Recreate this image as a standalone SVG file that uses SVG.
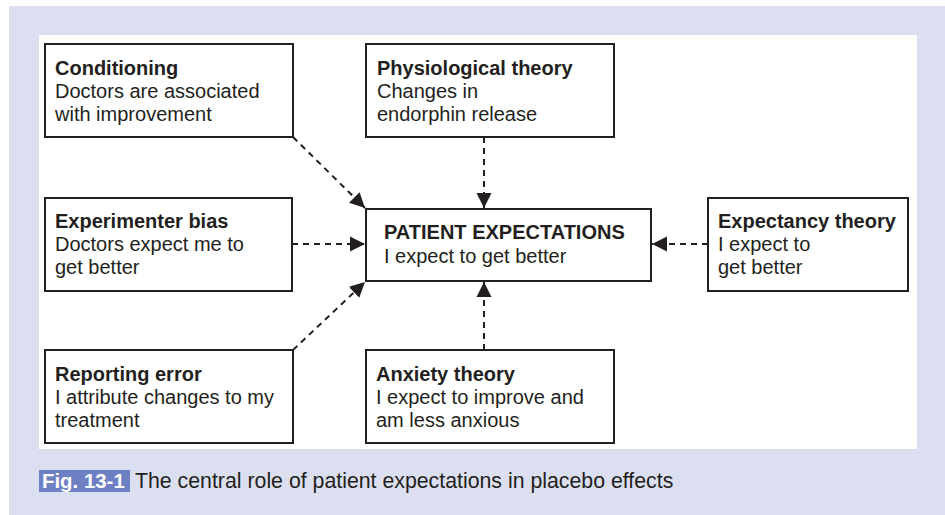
<svg xmlns="http://www.w3.org/2000/svg" width="945" height="515" viewBox="0 0 945 515">
<style>
.box{fill:#fff;stroke:#231f20;stroke-width:2}
.t{font-family:"Liberation Sans",Arial,Helvetica,sans-serif;font-size:20px;fill:#231f20}
.b{font-weight:bold}
.cap{font-size:21.3px}
.c{stroke:#231f20;stroke-width:2;stroke-dasharray:6 5;fill:none;marker-end:url(#ah)}
</style>
<defs>
<marker id="ah" markerUnits="userSpaceOnUse" markerWidth="16" markerHeight="16" refX="15" refY="7.5" orient="auto" viewBox="0 0 16 15">
<path d="M0,0 L15,7.5 L0,15 z" fill="#231f20"/>
</marker>
</defs>
<rect x="0" y="0" width="945" height="515" fill="#fff"/>
<rect x="9" y="6" width="936" height="509" fill="#dcdff0"/>
<rect x="39" y="35" width="878" height="414" fill="#fff"/>

<g id="connectors">
<line class="c" x1="293" y1="137" x2="365" y2="208"/>
<line class="c" x1="484" y1="137" x2="484" y2="208"/>
<line class="c" x1="292" y1="244" x2="365" y2="244"/>
<line class="c" x1="708" y1="244" x2="652" y2="244"/>
<line class="c" x1="293" y1="350" x2="365" y2="282"/>
<line class="c" x1="484" y1="350" x2="484" y2="282"/>
</g>

<g id="conditioning">
<rect class="box" x="45" y="44" width="248" height="93"/>
<text class="t b" x="55" y="75">Conditioning</text>
<text class="t" x="55" y="98">Doctors are associated</text>
<text class="t" x="55" y="121">with improvement</text>
</g>
<g id="physiological">
<rect class="box" x="366" y="44" width="248" height="93"/>
<text class="t b" x="377" y="75">Physiological theory</text>
<text class="t" x="377" y="98">Changes in</text>
<text class="t" x="377" y="121">endorphin release</text>
</g>
<g id="experimenter">
<rect class="box" x="45" y="198" width="247" height="93"/>
<text class="t b" x="55" y="228">Experimenter bias</text>
<text class="t" x="55" y="251">Doctors expect me to</text>
<text class="t" x="55" y="274">get better</text>
</g>
<g id="patient">
<rect class="box" x="366" y="209" width="285" height="72"/>
<text class="t b" x="384" y="239">PATIENT EXPECTATIONS</text>
<text class="t" x="384" y="263">I expect to get better</text>
</g>
<g id="expectancy">
<rect class="box" x="708" y="198" width="200" height="93"/>
<text class="t b" x="718" y="228">Expectancy theory</text>
<text class="t" x="718" y="251">I expect to</text>
<text class="t" x="718" y="274">get better</text>
</g>
<g id="reporting">
<rect class="box" x="45" y="350" width="248" height="93"/>
<text class="t b" x="55" y="381">Reporting error</text>
<text class="t" x="55" y="404">I attribute changes to my</text>
<text class="t" x="55" y="427">treatment</text>
</g>
<g id="anxiety">
<rect class="box" x="366" y="350" width="248" height="93"/>
<text class="t b" x="376" y="381">Anxiety theory</text>
<text class="t" x="376" y="404">I expect to improve and</text>
<text class="t" x="376" y="427">am less anxious</text>
</g>

<g id="caption">
<rect x="39" y="470" width="91" height="22" fill="#6e80c4"/>
<text class="t b" x="42" y="488" style="fill:#fff;font-size:20.4px">Fig. 13-1</text>
<text class="t cap" x="135" y="488">The central role of patient expectations in placebo effects</text>
</g>
</svg>
